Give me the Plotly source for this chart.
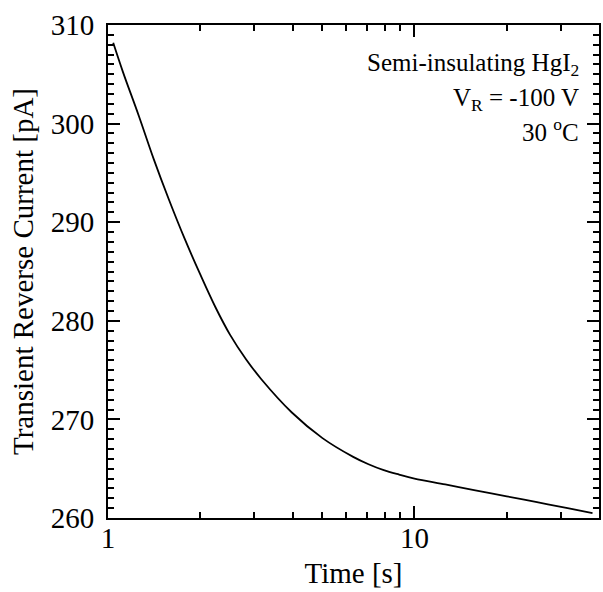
import plotly.graph_objects as go

# Data (time in s, log axis; current in pA)
time_s = [1.04, 1.12, 1.26, 1.41, 1.58, 1.78, 2.0, 2.24, 2.5, 2.82, 3.16, 3.98,
          5.01, 6.31, 7.08, 7.94, 8.91, 10.0, 12.6, 15.8, 20.0, 25.1, 31.6, 38.1]
current_pa = [308.2, 305.2, 300.8, 296.4, 292.3, 288.3, 284.7, 281.4, 278.6, 276.1,
              274.1, 270.7, 268.1, 266.2, 265.45, 264.85, 264.4, 264.0, 263.4, 262.8,
              262.2, 261.6, 261.0, 260.5]

x_major = [1, 10]
x_major_text = ["1", "10"]
x_minor = [2, 3, 4, 5, 6, 7, 8, 9, 20, 30]
y_major = [260, 270, 280, 290, 300, 310]
y_minor = [v for v in range(260, 311) if v % 10 != 0]

FONT = "Liberation Serif, Times New Roman, serif"

fig = go.Figure()
fig.add_trace(go.Scatter(
    x=time_s, y=current_pa, mode="lines",
    line=dict(color="black", width=1.8, shape="spline", smoothing=1.0),
    showlegend=False, hoverinfo="skip"))

axis_common = dict(
    showline=True, linecolor="black", linewidth=2, mirror="ticks",
    ticks="inside", tickcolor="black", tickwidth=2, ticklen=12,
    showgrid=False, zeroline=False,
    tickfont=dict(family=FONT, size=29, color="black"),
)

fig.update_xaxes(
    type="log", range=[0, 1.6021],
    tickmode="array", tickvals=x_major, ticktext=x_major_text,
    ticklabelstandoff=-7,
    minor=dict(tickmode="array", tickvals=x_minor, ticks="inside", ticklen=6,
               tickwidth=2, tickcolor="black", showgrid=False),
    title=dict(text="Time [s]", font=dict(family=FONT, size=29, color="black"), standoff=10),
    **axis_common)
fig.update_yaxes(
    range=[260, 310],
    tickmode="array", tickvals=y_major,
    ticklabelstandoff=6,
    minor=dict(tickmode="array", tickvals=y_minor, ticks="inside", ticklen=6,
               tickwidth=2, tickcolor="black", showgrid=False),
    title=dict(text="Transient Reverse Current [pA]", font=dict(family=FONT, size=29, color="black"), standoff=9),
    **axis_common)

ann_font = dict(family=FONT, size=25, color="black")
for txt, yy in [("Semi-insulating HgI<sub>2</sub>", 0.919),
                ("V<sub>R</sub> = -100 V", 0.848),
                ("30 <sup>o</sup>C", 0.787)]:
    fig.add_annotation(text=txt, xref="paper", yref="paper", x=0.963, y=yy,
                       xanchor="right", yanchor="middle", showarrow=False,
                       font=ann_font)

fig.update_layout(
    width=603, height=592,
    margin=dict(l=108, r=2, t=25, b=74),
    paper_bgcolor="white", plot_bgcolor="white",
    font=dict(family=FONT, color="black"),
)

fig.write_html("out.html")
